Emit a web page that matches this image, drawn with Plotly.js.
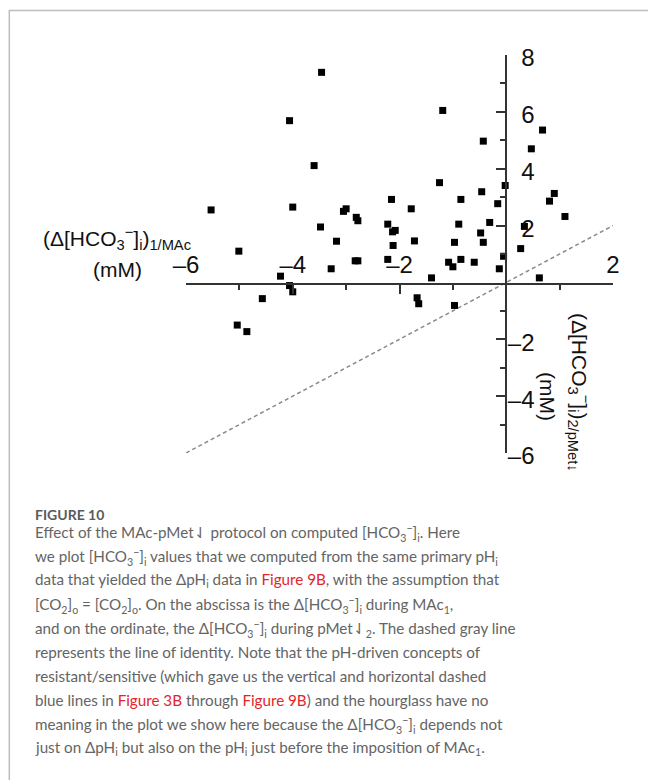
<!DOCTYPE html>
<html>
<head>
<meta charset="utf-8">
<script src="https://cdn.plot.ly/plotly-3.0.1.min.js"></script>
<style>
  html, body { margin: 0; padding: 0; background: #fff; }
  #chart { width: 648px; height: 780px; }
</style>
</head>
<body>
<div id="chart"></div>
<script>
// ---- data ----
const dHCO3_MAc = [
  -3.46, -4.06, -3.60, -5.53, -4.00, -3.48, -5.01, -4.23, -4.06, -4.00,
  -4.57, -5.04, -4.86, -3.28, -2.83, -2.78, -3.18, -2.12, -1.72, -2.22,
  -1.40, -1.67, -1.64, -0.97, -1.08, -1.00, -0.85, -0.60, -0.13, -0.05,
   0.27,  0.62, -0.43, -0.97, -1.19, -0.43,  0.68,  0.47, -1.25, -0.02,
  -0.46,  0.90,  0.81, -0.16, -0.85, -2.15, -1.78, -3.05, -3.00, -2.81,
  -2.78,  1.10, -0.31, -0.89, -2.22, -2.08, -2.13,  0.34, -0.48
];
const dHCO3_pMet = [
   7.39,  5.69,  4.11,  2.55,  2.65,  1.95,  1.10,  0.22, -0.11, -0.33,
  -0.57, -1.50, -1.73,  0.48,  0.76,  0.76,  1.45,  1.30,  1.46,  0.81,
   0.16, -0.54, -0.75, -0.81,  0.71,  0.55,  0.81,  0.71,  0.48,  0.92,
   1.19,  0.16,  1.41,  1.41,  6.05,  4.97,  5.36,  4.70,  3.51,  3.41,
   3.19,  3.13,  2.86,  2.77,  2.92,  2.92,  2.59,  2.50,  2.59,  2.29,
   2.17,  2.32,  2.11,  2.05,  2.05,  1.83,  1.78,  1.97,  1.74
];
const identityLine = [-6, 2];
const xTickVals = [-6, -4, -2, 2];
const xTickText = ['\u20136', '\u20134', '\u20132', '2'];
const xMinorVals = [-5, -3, -1, 1];
const yTickVals = [-6, -4, -2, 2, 4, 6, 8];
// figure-space pads positive labels so the column reads right-aligned
const yTickText = ['\u20136', '\u20134', '\u20132', '\u20072', '\u20074', '\u20076', '\u20078'];
const yMinorVals = [-5, -3, -1, 1, 3, 5, 7];

const captionTitle = 'FIGURE 10';
const captionLines = [
  'Effect of the MAc-pMet\u21C3 protocol on computed [HCO<sub>3</sub><sup>\u2212</sup>]<sub>i</sub>. Here',
  'we plot [HCO<sub>3</sub><sup>\u2212</sup>]<sub>i</sub> values that we computed from the same primary pH<sub>i</sub>',
  'data that yielded the \u0394pH<sub>i</sub> data in <span style="color:#e3242b">Figure 9B</span>, with the assumption that',
  '[CO<sub>2</sub>]<sub>o</sub> = [CO<sub>2</sub>]<sub>o</sub>. On the abscissa is the \u0394[HCO<sub>3</sub><sup>\u2212</sup>]<sub>i</sub> during MAc<sub>1</sub>,',
  'and on the ordinate, the \u0394[HCO<sub>3</sub><sup>\u2212</sup>]<sub>i</sub> during pMet\u21C3<sub>2</sub>. The dashed gray line',
  'represents the line of identity. Note that the pH-driven concepts of',
  'resistant/sensitive (which gave us the vertical and horizontal dashed',
  'blue lines in <span style="color:#e3242b">Figure 3B</span> through <span style="color:#e3242b">Figure 9B</span>) and the hourglass have no',
  'meaning in the plot we show here because the \u0394[HCO<sub>3</sub><sup>\u2212</sup>]<sub>i</sub> depends not',
  'just on \u0394pH<sub>i</sub> but also on the pH<sub>i</sub> just before the imposition of MAc<sub>1</sub>.'
];

// ---- layout helpers (pixel -> paper) ----
const W = 648, H = 780;
const M = { l: 186, r: 35, t: 55, b: 327 };
const PW = W - M.l - M.r, PH = H - M.t - M.b;
const px = x => (x - M.l) / PW;
const py = y => (H - M.b - y) / PH;

const narrow = "'Liberation Sans Narrow', 'Arial Narrow', 'Liberation Sans', Arial, sans-serif";
const tickFont = { family: narrow, size: 24, color: '#111' };
const titleFont = { family: narrow, size: 21, color: '#111' };
const capFont = { family: "Lato, 'Open Sans', sans-serif", size: 15.2, color: '#646464' };

const traces = [
  {
    x: identityLine, y: identityLine, type: 'scatter', mode: 'lines',
    line: { color: '#8a8a8a', width: 1.5, dash: '4px,3px' },
    hoverinfo: 'skip', showlegend: false
  },
  {
    x: dHCO3_MAc, y: dHCO3_pMet, type: 'scatter', mode: 'markers',
    marker: { symbol: 'square', size: 7, color: '#000' },
    showlegend: false
  }
];

const annotations = [
  { xref: 'paper', yref: 'paper', x: px(193), y: py(238), xanchor: 'right', yanchor: 'middle', showarrow: false,
    text: '(\u0394[HCO<sub>3</sub><sup>\u2212</sup>]<sub>i</sub>)<sub>1/MAc</sub>', font: titleFont },
  { xref: 'paper', yref: 'paper', x: px(117.5), y: py(269), xanchor: 'center', yanchor: 'middle', showarrow: false,
    text: '(mM)', font: titleFont },
  { xref: 'paper', yref: 'paper', x: px(580), y: py(392), xanchor: 'center', yanchor: 'middle', showarrow: false,
    textangle: 90, text: '(\u0394[HCO<sub>3</sub><sup>\u2212</sup>]<sub>i</sub>)<sub>2/pMet\u2193</sub>', font: titleFont },
  { xref: 'paper', yref: 'paper', x: px(548), y: py(396), xanchor: 'center', yanchor: 'middle', showarrow: false,
    textangle: 90, text: '(mM)', font: titleFont },
  { xref: 'paper', yref: 'paper', x: px(33), y: py(514), xanchor: 'left', yanchor: 'middle', showarrow: false,
    text: '<b>' + captionTitle + '</b>', font: { family: capFont.family, size: 14, color: '#5a5a5a' } }
];
captionLines.forEach((t, i) => {
  annotations.push({ xref: 'paper', yref: 'paper', x: px(33), y: py(532 + i * 24.05), xanchor: 'left', yanchor: 'middle',
    showarrow: false, text: t, font: capFont });
});

const layout = {
  width: W, height: H,
  margin: M,
  paper_bgcolor: '#fff', plot_bgcolor: '#fff',
  showlegend: false,
  xaxis: {
    range: [-6, 2], anchor: 'free', position: py(283.5), side: 'top',
    showgrid: false, zeroline: false,
    showline: true, linecolor: '#333', linewidth: 2,
    ticks: 'inside', ticklen: 9, tickwidth: 2, tickcolor: '#333',
    tickvals: xTickVals, ticktext: xTickText, ticklabelstandoff: 0,
    tickfont: tickFont,
    minor: { tickvals: xMinorVals, ticks: 'inside', ticklen: 5, tickwidth: 2, tickcolor: '#333', showgrid: false }
  },
  yaxis: {
    range: [-6, 8], anchor: 'free', position: px(506), side: 'right',
    showgrid: false, zeroline: false,
    showline: true, linecolor: '#333', linewidth: 2,
    ticks: 'inside', ticklen: 9, tickwidth: 2, tickcolor: '#333',
    tickvals: yTickVals, ticktext: yTickText,
    ticklabelstandoff: -4, ticklabelshift: 3,
    tickfont: tickFont,
    minor: { tickvals: yMinorVals, ticks: 'inside', ticklen: 5, tickwidth: 2, tickcolor: '#333', showgrid: false }
  },
  shapes: [
    { type: 'line', xref: 'paper', yref: 'paper', x0: px(9), x1: px(648), y0: py(10.5), y1: py(10.5),
      line: { color: '#bdbdbd', width: 1.5 } },
    { type: 'line', xref: 'paper', yref: 'paper', x0: px(9.3), x1: px(9.3), y0: py(10), y1: py(780),
      line: { color: '#bdbdbd', width: 1.5 } }
  ],
  annotations: annotations
};

Plotly.newPlot('chart', traces, layout, { displayModeBar: false, staticPlot: true });
</script>
</body>
</html>
